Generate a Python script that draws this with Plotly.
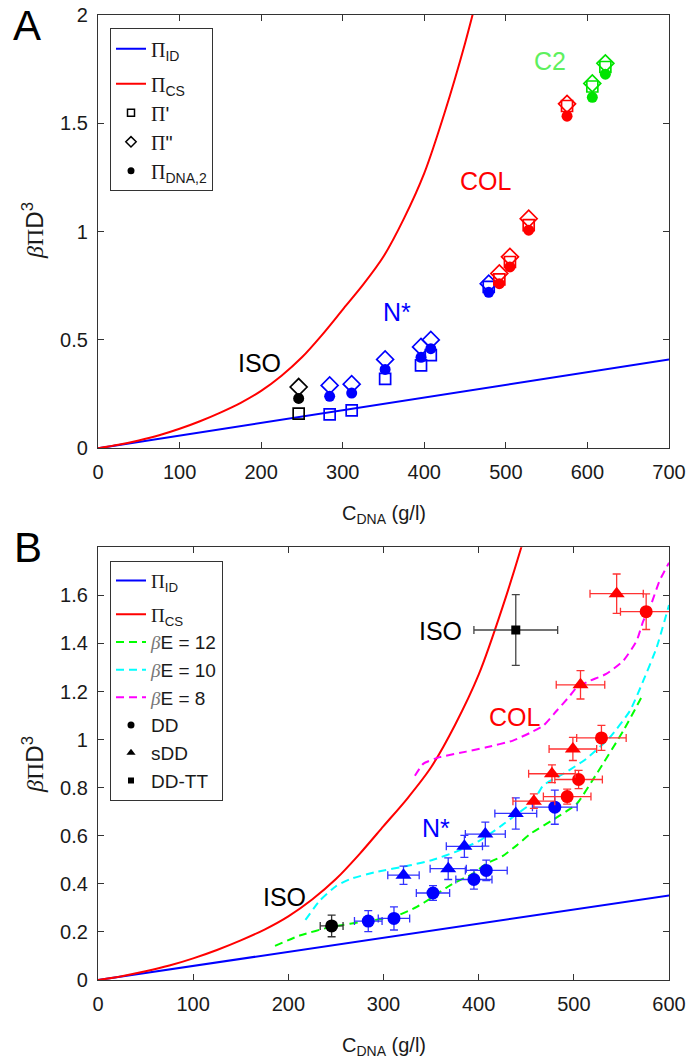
import plotly.graph_objects as go

# ---------------- theory curves ----------------
ID_C = [0, 700]
ID_Y = [0, 0.41]
CS_C = [0, 25, 50, 75, 100, 125, 150, 175, 200, 225, 250, 275, 300, 325, 350, 375, 400, 425, 450, 470]
CS_Y = [0, 0.016, 0.036, 0.06, 0.09, 0.125, 0.165, 0.21, 0.265, 0.335, 0.42, 0.525, 0.64, 0.755, 0.885, 1.06, 1.27, 1.55, 1.87, 2.16]

# ---------------- panel A data ----------------
A_CONC = [246, 284, 311, 352, 396, 408, 479, 492, 505, 528, 575, 606, 622]
A_PHASE = ["ISO", "N*", "N*", "N*", "N*", "N*", "N*", "COL", "COL", "COL", "COL", "C2", "C2"]
A_PI_PRIME = [0.16, 0.157, 0.175, 0.32, 0.383, 0.43, 0.745, 0.78, 0.86, 1.03, 1.58, 1.67, 1.76]
A_PI_DPRIME = [0.283, 0.29, 0.296, 0.41, 0.468, 0.5, 0.76, 0.807, 0.884, 1.06, 1.59, 1.684, 1.777]
A_PI_DNA2 = [0.23, 0.24, 0.255, 0.364, 0.42, 0.46, 0.72, 0.76, 0.837, 1.007, 1.533, 1.62, 1.727]

# ---------------- panel B data ----------------
DD_C = [245.5, 284, 311, 352, 395, 408, 480, 493, 505, 529, 576]
DD_Y = [0.225, 0.245, 0.256, 0.362, 0.418, 0.456, 0.719, 0.763, 0.834, 1.007, 1.532]
DD_XERR = [12, 14.5, 16.5, 17.5, 19, 22, 23.5, 25, 25, 26, 27]
DD_YERR = [0.045, 0.044, 0.048, 0.031, 0.04, 0.043, 0.071, 0.031, 0.038, 0.052, 0.074]
DD_PHASE = ["ISO", "N*", "N*", "N*", "N*", "N*", "N*", "COL", "COL", "COL", "COL"]

SDD_C = [321, 368, 385, 407, 439, 458, 477, 499, 507, 545]
SDD_Y = [0.436, 0.463, 0.556, 0.607, 0.693, 0.744, 0.858, 0.961, 1.228, 1.607]
SDD_XERR = [16.5, 19, 19, 21, 22, 22, 24.5, 25, 25.5, 28]
SDD_YERR = [0.038, 0.045, 0.046, 0.05, 0.065, 0.03, 0.037, 0.048, 0.059, 0.082]
SDD_PHASE = ["N*", "N*", "N*", "N*", "N*", "COL", "COL", "COL", "COL", "COL"]

TT_C = [439]
TT_Y = [1.456]
TT_XERR = [44]
TT_YERR = [0.147]

BE12_C = [186, 212, 245, 285, 311, 335, 352, 370, 394, 408, 425, 440, 455, 480, 503, 524, 552, 573]
BE12_Y = [0.142, 0.185, 0.221, 0.246, 0.263, 0.304, 0.346, 0.394, 0.443, 0.484, 0.515, 0.56, 0.61, 0.671, 0.733, 0.858, 1.037, 1.19]
BE10_C = [218, 233, 250, 265, 293, 328, 352, 377, 401, 422, 440, 457, 468, 490, 513, 538, 559, 573, 587, 600]
BE10_Y = [0.25, 0.33, 0.39, 0.42, 0.45, 0.477, 0.5, 0.535, 0.58, 0.636, 0.69, 0.74, 0.81, 0.86, 0.92, 1.01, 1.12, 1.245, 1.383, 1.56]
BE8_C = [333, 342, 359, 387, 408, 436, 455, 468, 482, 496, 503, 517, 534, 552, 566, 573, 580, 590, 600]
BE8_Y = [0.85, 0.9, 0.927, 0.95, 0.968, 0.996, 1.03, 1.058, 1.12, 1.183, 1.217, 1.245, 1.273, 1.328, 1.411, 1.494, 1.55, 1.66, 1.736]

A_XTICKS = [0, 100, 200, 300, 400, 500, 600, 700]
A_YTICKS = [0, 0.5, 1, 1.5, 2]
B_XTICKS = [0, 100, 200, 300, 400, 500, 600]
B_YTICKS = [0, 0.2, 0.4, 0.6, 0.8, 1, 1.2, 1.4, 1.6]

# ---------------- styles ----------------
PHASE_COLORS = {"ISO": "#000000", "N*": "#0000ff", "COL": "#ff0000", "C2": "#00e400"}
ERR_COLORS = {"ISO": "#333333", "N*": "#3333ff", "COL": "#ff3333"}
FONT = "Liberation Sans, Arial, sans-serif"
SERIF = "Liberation Serif"
PI = f'<span style="font-family:{SERIF}">Π</span>'
BETA_LEG = f'<span style="font-family:{SERIF};color:#777777"><i>β</i></span>'
BETA = f'<span style="font-family:{SERIF}"><i>β</i></span>'

fig = go.Figure()

# ---------- Panel A ----------
fig.add_trace(go.Scatter(x=ID_C, y=ID_Y, mode="lines", line=dict(color="#0000ff", width=2),
                         name=f"{PI}<sub>ID</sub>", legend="legend", legendgroup="a1", xaxis="x", yaxis="y"))
fig.add_trace(go.Scatter(x=CS_C, y=CS_Y, mode="lines", line=dict(color="#ff0000", width=2, shape="spline", smoothing=0.8),
                         name=f"{PI}<sub>CS</sub>", legend="legend", legendgroup="a2", xaxis="x", yaxis="y"))

for ph in ["ISO", "N*", "COL", "C2"]:
    idx = [i for i, p in enumerate(A_PHASE) if p == ph]
    xs = [A_CONC[i] for i in idx]
    col = PHASE_COLORS[ph]
    fig.add_trace(go.Scatter(x=xs, y=[A_PI_PRIME[i] for i in idx], mode="markers",
                             marker=dict(symbol="square-open", size=11, color=col, line=dict(width=1.7, color=col)),
                             showlegend=False, xaxis="x", yaxis="y"))
    fig.add_trace(go.Scatter(x=xs, y=[A_PI_DPRIME[i] for i in idx], mode="markers",
                             marker=dict(symbol="diamond-open", size=13, color=col, line=dict(width=1.7, color=col)),
                             showlegend=False, xaxis="x", yaxis="y"))
    fig.add_trace(go.Scatter(x=xs, y=[A_PI_DNA2[i] for i in idx], mode="markers",
                             marker=dict(symbol="circle", size=11, color=col),
                             showlegend=False, xaxis="x", yaxis="y"))

fig.add_trace(go.Scatter(x=[None], y=[None], mode="markers", name=f"{PI}'",
                         marker=dict(symbol="square-open", size=7, color="black", line=dict(width=1.5, color="black")),
                         legend="legend", legendgroup="a2", xaxis="x", yaxis="y"))
fig.add_trace(go.Scatter(x=[None], y=[None], mode="markers", name=f'{PI}"',
                         marker=dict(symbol="diamond-open", size=8, color="black", line=dict(width=1.5, color="black")),
                         legend="legend", legendgroup="a2", xaxis="x", yaxis="y"))
fig.add_trace(go.Scatter(x=[None], y=[None], mode="markers", name=f"{PI}<sub>DNA,2</sub>",
                         marker=dict(symbol="circle", size=7, color="black"),
                         legend="legend", legendgroup="a2", xaxis="x", yaxis="y"))

# ---------- Panel B ----------
fig.add_trace(go.Scatter(x=ID_C, y=ID_Y, mode="lines", line=dict(color="#0000ff", width=2),
                         name=f"{PI}<sub>ID</sub>", legend="legend2", legendgroup="b1", xaxis="x2", yaxis="y2"))
fig.add_trace(go.Scatter(x=CS_C, y=CS_Y, mode="lines", line=dict(color="#ff0000", width=2, shape="spline", smoothing=0.8),
                         name=f"{PI}<sub>CS</sub>", legend="legend2", legendgroup="b2", xaxis="x2", yaxis="y2"))
for cx, cy, colr, lab in [(BE12_C, BE12_Y, "#00ff00", "12"), (BE10_C, BE10_Y, "#00ffff", "10"), (BE8_C, BE8_Y, "#ff00ff", "8")]:
    fig.add_trace(go.Scatter(x=cx, y=cy, mode="lines",
                             line=dict(color=colr, width=2, dash="8px,5px", shape="spline", smoothing=0.5),
                             name=f"{BETA_LEG}E = {lab}", legend="legend2", legendgroup="b2", xaxis="x2", yaxis="y2"))

for ph in ["ISO", "N*", "COL"]:
    idx = [i for i, p in enumerate(DD_PHASE) if p == ph]
    if idx:
        fig.add_trace(go.Scatter(
            x=[DD_C[i] for i in idx], y=[DD_Y[i] for i in idx], mode="markers",
            marker=dict(symbol="circle", size=13, color=PHASE_COLORS[ph]),
            error_x=dict(type="data", array=[DD_XERR[i] for i in idx], color=ERR_COLORS[ph], thickness=1.3, width=4),
            error_y=dict(type="data", array=[DD_YERR[i] for i in idx], color=ERR_COLORS[ph], thickness=1.3, width=4),
            showlegend=False, xaxis="x2", yaxis="y2"))
    idx = [i for i, p in enumerate(SDD_PHASE) if p == ph]
    if idx:
        fig.add_trace(go.Scatter(
            x=[SDD_C[i] for i in idx], y=[SDD_Y[i] for i in idx], mode="markers",
            marker=dict(symbol="triangle-up", size=14, color=PHASE_COLORS[ph]),
            error_x=dict(type="data", array=[SDD_XERR[i] for i in idx], color=ERR_COLORS[ph], thickness=1.3, width=4),
            error_y=dict(type="data", array=[SDD_YERR[i] for i in idx], color=ERR_COLORS[ph], thickness=1.3, width=4),
            showlegend=False, xaxis="x2", yaxis="y2"))

fig.add_trace(go.Scatter(
    x=TT_C, y=TT_Y, mode="markers", marker=dict(symbol="square", size=9, color="black"),
    error_x=dict(type="data", array=TT_XERR, color="#444444", thickness=1.3, width=4),
    error_y=dict(type="data", array=TT_YERR, color="#444444", thickness=1.3, width=4),
    showlegend=False, xaxis="x2", yaxis="y2"))

fig.add_trace(go.Scatter(x=[None], y=[None], mode="markers", name="DD",
                         marker=dict(symbol="circle", size=7, color="black"), legend="legend2", legendgroup="b2",
                         xaxis="x2", yaxis="y2"))
fig.add_trace(go.Scatter(x=[None], y=[None], mode="markers", name="sDD",
                         marker=dict(symbol="triangle-up", size=8, color="black"), legend="legend2", legendgroup="b2",
                         xaxis="x2", yaxis="y2"))
fig.add_trace(go.Scatter(x=[None], y=[None], mode="markers", name="DD-TT",
                         marker=dict(symbol="square", size=6, color="black"), legend="legend2", legendgroup="b2",
                         xaxis="x2", yaxis="y2"))

# ---------------- layout ----------------
W, H = 691, 1062
ML, MR, MT, MB = 98, 22, 15, 82
PW, PH = W - ML - MR, H - MT - MB


def px(xpix):
    return (xpix - ML) / PW


def py(ypix):
    return 1 - (ypix - MT) / PH


axis_common = dict(showline=True, mirror="ticks", ticks="inside", ticklen=6, tickwidth=1,
                   linecolor="#333333", linewidth=1.2, tickcolor="#333333", showgrid=False, zeroline=False,
                   automargin=False,
                   tickfont=dict(size=20, color="#1a1a1a", family=FONT))

fig.update_layout(
    template="none",
    width=W, height=H, margin=dict(l=ML, r=MR, t=MT, b=MB, autoexpand=False),
    plot_bgcolor="white", paper_bgcolor="white",
    font=dict(family=FONT, size=18, color="#1a1a1a"),
    xaxis=dict(domain=[0, 1], range=[0, 700], tickvals=A_XTICKS, anchor="y", ticklabelstandoff=6, **axis_common),
    yaxis=dict(domain=[py(448.3), 1], range=[0, 2], tickvals=A_YTICKS, anchor="x", ticklabelstandoff=5, **axis_common),
    xaxis2=dict(domain=[0, 1], range=[0, 600], tickvals=B_XTICKS, anchor="y2", ticklabelstandoff=6, **axis_common),
    yaxis2=dict(domain=[0, py(547.3)], range=[0, 1.8], tickvals=B_YTICKS, anchor="x2", ticklabelstandoff=5, **axis_common),
    legend=dict(x=px(110), y=py(28.3), xanchor="left", yanchor="top", bgcolor="white",
                bordercolor="#333333", borderwidth=1, font=dict(size=20, family=FONT), itemwidth=30,
                tracegroupgap=6),
    legend2=dict(x=px(110), y=py(560.7), xanchor="left", yanchor="top", bgcolor="white",
                 bordercolor="#333333", borderwidth=1, font=dict(size=19, family=FONT), itemwidth=30,
                 tracegroupgap=6),
    showlegend=True,
)

annotations = []
LBL = 25
for xr, yr, xv, yv, txt, col in [
    ("x", "y", 198, 0.396, "ISO", "#000000"),
    ("x", "y", 366, 0.627, "N*", "#0000ff"),
    ("x", "y", 476, 1.236, "COL", "#ff0000"),
    ("x", "y", 554, 1.789, "C2", "#5ef05e"),
    ("x2", "y2", 195.5, 0.346, "ISO", "#000000"),
    ("x2", "y2", 360, 1.452, "ISO", "#000000"),
    ("x2", "y2", 355, 0.633, "N*", "#0000ff"),
    ("x2", "y2", 438, 1.095, "COL", "#ff0000"),
]:
    annotations.append(dict(xref=xr, yref=yr, x=xv, y=yv, text=txt, showarrow=False,
                            font=dict(size=LBL, color=col, family=FONT), xanchor="center", yanchor="middle"))

# panel letters
annotations.append(dict(xref="paper", yref="paper", x=px(27), y=py(0), text="A", showarrow=False,
                        font=dict(size=42, color="black", family=FONT), xanchor="center", yanchor="top"))
annotations.append(dict(xref="paper", yref="paper", x=px(28), y=py(547), text="B", showarrow=False,
                        font=dict(size=42, color="black", family=FONT), xanchor="center", yanchor="middle"))

# axis titles
xt = "C<sub>DNA</sub> (g/l)"
yt = f"{BETA}{PI}D<sup>3</sup>"
annotations.append(dict(xref="paper", yref="paper", x=0.5, y=py(500), text=xt, showarrow=False,
                        font=dict(size=20, family=FONT), xanchor="center", yanchor="top"))
annotations.append(dict(xref="paper", yref="paper", x=0.5, y=py(1032), text=xt, showarrow=False,
                        font=dict(size=20, family=FONT), xanchor="center", yanchor="top"))
annotations.append(dict(xref="paper", yref="paper", x=px(33), y=py(231), text=yt, showarrow=False, textangle=-90,
                        font=dict(size=24, family=FONT), xanchor="center", yanchor="middle"))
annotations.append(dict(xref="paper", yref="paper", x=px(33), y=py(765), text=yt, showarrow=False, textangle=-90,
                        font=dict(size=24, family=FONT), xanchor="center", yanchor="middle"))

fig.update_layout(annotations=annotations)
fig.write_html("out.html", config={"displayModeBar": False},
               post_script="document.body.style.margin='0';document.body.style.overflow='hidden';")
